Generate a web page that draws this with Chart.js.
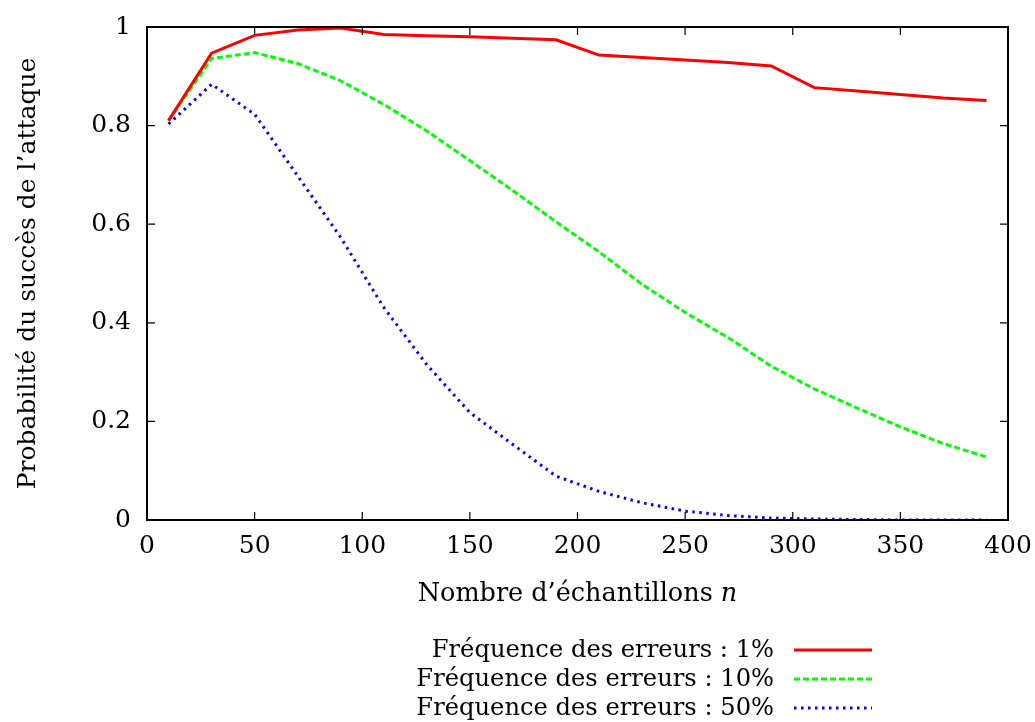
<!DOCTYPE html>
<html>
<head>
<meta charset="utf-8">
<script src="https://cdn.jsdelivr.net/npm/chart.js@4"></script>
<style>
  html, body { margin: 0; padding: 0; background: #fff; overflow: hidden; }
  #wrap { width: 1035px; height: 722px; position: relative; }
</style>
</head>
<body>
<div id="wrap"><canvas id="chart"></canvas></div>
<script>
const FONT = '"DejaVu Serif", serif';

const nSamples = [10, 30, 50, 70, 90, 110, 130, 150, 170, 190, 210, 230, 250, 270, 290, 310, 330, 350, 370, 390];
const err1  = [0.810, 0.947, 0.983, 0.994, 0.998, 0.985, 0.982, 0.980, 0.977, 0.974, 0.943, 0.938, 0.933, 0.928, 0.921, 0.877, 0.870, 0.863, 0.856, 0.851];
const err10 = [0.810, 0.936, 0.948, 0.926, 0.891, 0.843, 0.789, 0.729, 0.668, 0.605, 0.544, 0.478, 0.421, 0.370, 0.312, 0.266, 0.227, 0.189, 0.155, 0.128];
const err50 = [0.803, 0.884, 0.823, 0.698, 0.573, 0.431, 0.315, 0.218, 0.153, 0.089, 0.058, 0.035, 0.018, 0.009, 0.004, 0.002, 0.001, 0, 0, 0];

const seriesLabels = [
  'Fréquence des erreurs : 1%',
  'Fréquence des erreurs : 10%',
  'Fréquence des erreurs : 50%',
];
const xTitle = 'Nombre d’échantillons ';
const xTitleVar = 'n';
const yTitle = 'Probabilité du succès de l’attaque';

const toPts = ys => nSamples.map((x, i) => ({ x, y: ys[i] }));

// frame, inward ticks on all four sides, x title with italic n, legend below
const gnuplotLook = {
  id: 'gnuplotLook',
  afterDraw(chart) {
    const { ctx, chartArea: a, scales } = chart;
    const tick = 8;
    ctx.save();
    ctx.strokeStyle = '#000';
    ctx.lineWidth = 1.2;
    ctx.beginPath();
    scales.x.ticks.forEach(t => {
      const px = scales.x.getPixelForValue(t.value);
      ctx.moveTo(px, a.bottom); ctx.lineTo(px, a.bottom - tick);
      ctx.moveTo(px, a.top);    ctx.lineTo(px, a.top + tick);
    });
    scales.y.ticks.forEach(t => {
      const py = scales.y.getPixelForValue(t.value);
      ctx.moveTo(a.left, py);  ctx.lineTo(a.left + tick, py);
      ctx.moveTo(a.right, py); ctx.lineTo(a.right - tick, py);
    });
    ctx.stroke();
    ctx.lineWidth = 2;
    ctx.strokeRect(a.left, a.top, a.right - a.left, a.bottom - a.top);

    // x title
    ctx.fillStyle = '#000';
    ctx.textBaseline = 'alphabetic';
    ctx.font = '25.5px ' + FONT;
    const w1 = ctx.measureText(xTitle).width;
    ctx.font = 'italic 25.5px ' + FONT;
    const w2 = ctx.measureText(xTitleVar).width;
    const cx = (a.left + a.right) / 2;
    const x0 = cx - (w1 + w2) / 2;
    ctx.font = '25.5px ' + FONT;
    ctx.textAlign = 'left';
    ctx.fillText(xTitle, x0, 601);
    ctx.font = 'italic 25.5px ' + FONT;
    ctx.fillText(xTitleVar, x0 + w1, 601);

    // legend
    ctx.font = '24.2px ' + FONT;
    ctx.textAlign = 'right';
    chart.data.datasets.forEach((ds, i) => {
      const y = 650 + i * 29;
      ctx.fillText(ds.label, 774, y + 7);
      ctx.save();
      ctx.strokeStyle = ds.borderColor;
      ctx.lineWidth = ds.borderWidth;
      ctx.setLineDash(ds.borderDash || []);
      ctx.beginPath();
      ctx.moveTo(794, y); ctx.lineTo(872, y);
      ctx.stroke();
      ctx.restore();
    });
    ctx.restore();
  },
};

const ctx = document.getElementById('chart').getContext('2d');

new Chart(ctx, {
  type: 'line',
  data: {
    datasets: [
      {
        label: seriesLabels[0],
        data: toPts(err1),
        borderColor: '#ff0000',
        borderWidth: 3,
        pointRadius: 0,
        tension: 0,
      },
      {
        label: seriesLabels[1],
        data: toPts(err10),
        borderColor: '#00ff00',
        borderWidth: 3,
        borderDash: [6, 3],
        pointRadius: 0,
        tension: 0,
      },
      {
        label: seriesLabels[2],
        data: toPts(err50),
        borderColor: '#0000ff',
        borderWidth: 3,
        borderDash: [2.5, 4.5],
        pointRadius: 0,
        tension: 0,
      },
    ],
  },
  options: {
    responsive: true,
    maintainAspectRatio: false,
    animation: false,
    layout: { padding: { top: 27, right: 27, bottom: 142, left: 0 } },
    plugins: {
      legend: { display: false },
      tooltip: { enabled: false },
    },
    scales: {
      x: {
        type: 'linear',
        min: 0,
        max: 400,
        grid: { display: false, drawTicks: false },
        border: { display: false },
        ticks: {
          stepSize: 50,
          color: '#000',
          padding: 11,
          maxRotation: 0,
          font: { family: FONT, size: 25 },
        },
        afterFit: s => { s.height = 60; s.paddingLeft = 0; s.paddingRight = 0; },
      },
      y: {
        min: 0,
        max: 1,
        grid: { display: false, drawTicks: false },
        border: { display: false },
        ticks: {
          stepSize: 0.2,
          color: '#000',
          padding: 16,
          font: { family: FONT, size: 25 },
          callback: v => String(+v.toFixed(1)),
        },
        title: {
          display: true,
          text: yTitle,
          color: '#000',
          font: { family: FONT, size: 25 },
          padding: { top: 13, bottom: 0 },
        },
        afterFit: s => { s.width = 147; s.paddingTop = 0; s.paddingBottom = 0; },
      },
    },
  },
  plugins: [gnuplotLook],
});
</script>
</body>
</html>
